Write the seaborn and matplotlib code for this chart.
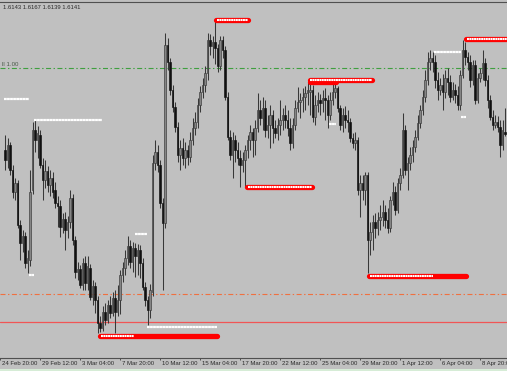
import numpy as np
import pandas as pd
import matplotlib
matplotlib.use("Agg")
import matplotlib.pyplot as plt
import matplotlib.transforms as mtransforms
from matplotlib.patches import Rectangle
import seaborn as sns

# ---------------- data (prices in pips above a base level) ----------------
opens = [210,200,215,190,168,177,135,117,124,97,
         100,170,230,220,225,195,180,189,175,182,
         170,157,154,133,141,130,138,162,120,88,
         91,75,97,77,92,63,74,60,37,32,
         48,40,55,47,62,48,60,85,92,102,
         114,98,112,104,110,97,73,60,50,68,
         197,208,195,157,137,315,298,270,253,233,
         205,212,202,210,203,220,232,238,255,268,
         275,287,320,314,318,312,294,320,310,263,
         223,205,220,210,202,195,200,210,220,228,
         220,232,250,242,252,230,235,245,232,227,
         235,240,245,240,232,217,235,252,258,260,
         263,267,268,270,243,255,260,257,262,260,
         245,260,268,272,252,235,245,240,238,222,
         217,220,170,177,170,185,120,128,138,132,
         140,143,148,140,132,160,168,150,177,185,
         230,190,197,205,213,223,237,250,263,280,
         298,302,298,280,270,275,268,282,278,263,
         270,265,255,285,310,303,298,280,295,260,
         282,287,297,280,260,243,235,238,233,215,228]
closes = [200,215,190,168,177,135,117,124,97,102,
          168,230,220,227,195,180,189,175,182,168,
          157,154,133,141,130,138,162,120,88,91,
          75,97,77,94,63,74,60,37,32,48,
          40,55,47,62,48,60,85,92,102,114,
          98,112,104,110,97,73,60,50,70,197,
          208,195,157,137,315,298,270,253,233,205,
          212,202,210,203,220,232,238,255,268,275,
          287,320,314,318,312,294,320,310,263,223,
          205,220,210,202,195,200,210,220,228,220,
          232,250,242,252,230,235,245,232,227,235,
          240,245,240,232,217,235,252,258,260,263,
          267,270,270,243,255,260,257,262,260,245,
          260,268,272,252,235,245,240,238,222,217,
          220,170,177,170,185,120,128,138,132,140,
          143,148,140,132,160,168,150,177,185,230,
          190,197,205,213,223,237,250,263,280,298,
          302,298,280,270,275,268,282,278,263,270,
          265,255,285,310,303,298,280,295,260,282,
          287,297,280,260,243,235,238,233,215,230,226]
highs = [225,222,218,195,182,180,140,130,128,110,
         190,238,240,234,230,202,200,194,190,188,
         178,164,160,147,148,144,170,166,124,98,
         95,102,104,104,96,80,78,64,44,54,
         57,60,64,68,70,75,90,98,110,124,
         120,118,117,116,115,102,78,64,76,205,
         220,215,200,162,327,322,302,275,258,238,
         220,222,218,215,228,242,248,262,274,282,
         294,327,326,324,340,316,324,324,314,268,
         230,228,225,218,210,208,215,225,235,232,
         240,267,260,263,260,245,255,250,240,242,
         260,252,255,250,242,242,260,273,267,272,
         274,278,280,275,265,268,266,270,272,265,
         268,277,278,274,255,252,254,250,242,227,
         228,223,185,185,188,188,138,145,147,148,
         155,160,155,152,164,178,174,182,192,247,
         235,203,213,220,230,245,255,270,290,308,
         310,308,305,288,282,286,290,292,285,278,
         276,274,290,320,318,308,305,300,300,287,
         292,310,302,285,265,250,245,244,240,240,252]
lows = [190,192,185,162,160,132,100,108,92,87,
        94,166,208,202,192,160,172,168,164,162,
        152,133,123,127,110,122,132,115,82,80,
        72,70,70,70,60,55,47,27,28,29,
        35,37,42,44,27,44,46,78,85,95,
        92,88,83,85,82,70,54,35,42,64,
        190,188,152,70,132,290,265,248,228,198,
        190,195,192,195,198,215,225,232,248,262,
        268,280,305,302,296,288,290,302,260,220,
        200,182,198,195,173,188,173,202,210,203,
        205,228,235,230,223,222,212,217,222,220,
        225,230,232,224,210,212,230,248,242,248,
        250,255,245,238,235,248,245,248,240,232,
        240,255,262,248,230,228,232,228,218,212,
        210,165,143,160,155,87,105,110,122,125,
        130,134,132,127,128,155,145,147,170,182,
        185,170,190,198,208,220,232,245,258,275,
        290,288,272,260,265,250,262,265,258,260,
        257,250,250,282,295,290,273,275,256,257,
        278,280,274,252,240,230,232,228,203,210,224]

tick_labels = ["24 Feb 20:00", "29 Feb 12:00", "3 Mar 04:00", "7 Mar 20:00",
               "10 Mar 12:00", "15 Mar 04:00", "17 Mar 20:00", "22 Mar 12:00",
               "25 Mar 04:00", "29 Mar 20:00", "1 Apr 12:00", "6 Apr 04:00",
               "8 Apr 20:00"]
header_text = "1.6143 1.6167 1.6139 1.6141"
fibo_label = "ll 1.00"

# horizontal levels (price)
fibo_level = 292
orange_level = 66
red_level = 38

# white short level marks: price, from bar, to bar
white_price = [261, 240, 85, 126, 33, 236, 308, 243]
white_from = [-0.4, 11.5, 9.5, 52.0, 56.7, 129.4, 171.4, 182.5]
white_to = [9.5, 38.9, 11.5, 56.7, 84.9, 132.5, 182.5, 184.5]

# red zones: price, from bar, to bar, end of dotted part
red_price = [340, 173, 278, 280, 84, 24, 321]
red_from = [84.5, 96.8, 121.8, 121.8, 145.6, 38.1, 184.5]
red_to = [97.2, 122.6, 132.5, 146.8, 184.5, 84.9, 201.5]
red_dots_to = [97.2, 122.6, 121.8, 146.8, 171.0, 51.6, 201.5]

df = pd.DataFrame({"open": opens, "high": highs, "low": lows, "close": closes})
df["bar"] = np.arange(len(df))

# ---------------- style ----------------
BG = "#c0c0c0"
sns.set_theme(style="white", rc={"axes.facecolor": BG, "figure.facecolor": BG,
                                 "lines.scale_dashes": False})
plt.rcParams["font.family"] = ["Liberation Sans", "DejaVu Sans"]

fig = plt.figure(figsize=(5.07, 3.71), dpi=100)
fig.patch.set_facecolor(BG)
ax = fig.add_axes([0, 13.3 / 371, 1, (371 - 13.3 - 1.5) / 371])
ax.set_facecolor(BG)

# level lines
ax.axhline(fibo_level, color="#3f9f3f", lw=0.8, dashes=(3.6, 1.8, 1.0, 1.8), zorder=1)
ax.axhline(orange_level, color="#f07040", lw=0.8, dashes=(3.6, 1.8, 1.0, 1.8), zorder=1)
ax.axhline(red_level, color="#f05555", lw=0.9, zorder=1)

# candles
up = df["close"] >= df["open"]
ax.vlines(df["bar"], df["low"], df["high"], color="#383838", lw=0.75, zorder=2)
body_bottom = np.minimum(df["open"], df["close"])
body_h = np.maximum(np.abs(df["close"] - df["open"]), 0.8)
ax.bar(df["bar"][up], body_h[up], bottom=body_bottom[up], width=0.75,
       color="#858585", edgecolor="#383838", linewidth=0.45, zorder=3)
ax.bar(df["bar"][~up], body_h[~up], bottom=body_bottom[~up], width=0.75,
       color="#101010", edgecolor="#101010", linewidth=0.45, zorder=3)

# white marks
for p, a, b in zip(white_price, white_from, white_to):
    ax.plot([a, b], [p, p], color="white", lw=1.6, dashes=(2.0, 0.2),
            solid_capstyle="butt", zorder=4)

# red zones
for p, a, b, d in zip(red_price, red_from, red_to, red_dots_to):
    ax.plot([a, b], [p, p], color="#ff0000", lw=3.8, solid_capstyle="round", zorder=5)
    if d > a:
        ax.plot([a + 0.3, d], [p, p], color="white", lw=1.5, dashes=(1.4, 0.3),
                zorder=6)

ax.set_xlim(-0.4, 200.8)
ax.set_ylim(2.3, 358.5)

# texts
ax.text(0.003, fibo_level + 1.2, fibo_label, transform=ax.get_yaxis_transform(),
        fontsize=4.4, color="#4a5a4a", ha="left", va="bottom", zorder=7)
fig.text(3 / 507, 1 - 7.3 / 371, header_text, fontsize=4.2, color="#2a2a2a",
         ha="left", va="center")

# x axis
tick_pos = [-2 + 16 * i for i in range(len(tick_labels))]
ax.set_xticks(tick_pos)
ax.set_xticklabels(tick_labels, fontsize=4.3, color="#2a2a2a")
ax.tick_params(axis="x", direction="out", length=1.6, width=0.6, color="#404040", pad=1.0,
               bottom=True)
offset = mtransforms.ScaledTranslation(1.8 / 100, 0, fig.dpi_scale_trans)
for lab in ax.get_xticklabels():
    lab.set_horizontalalignment("left")
    lab.set_transform(lab.get_transform() + offset)
ax.set_yticks([])

for side in ["left", "right"]:
    ax.spines[side].set_visible(False)
for side in ["top", "bottom"]:
    ax.spines[side].set_visible(True)
    ax.spines[side].set_color("#505050")
    ax.spines[side].set_linewidth(0.8)

fig.patches.append(Rectangle((0, 0), 1, 2.2 / 371, transform=fig.transFigure,
                             facecolor="#d6ecd6", edgecolor="none", zorder=0))

fig.savefig("out.png", dpi=100, facecolor=BG)
